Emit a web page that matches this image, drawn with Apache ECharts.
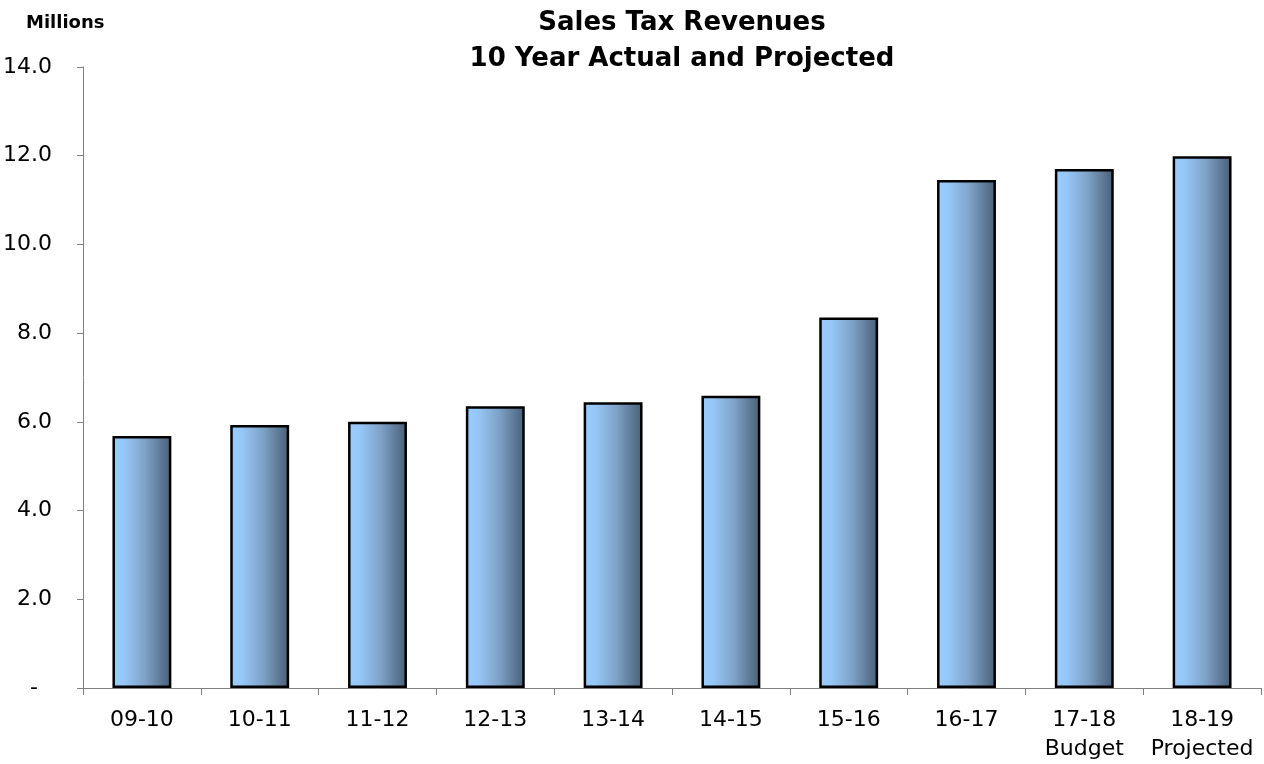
<!DOCTYPE html>
<html>
<head>
<meta charset="utf-8">
<script src="https://cdn.jsdelivr.net/npm/echarts@6/dist/echarts.min.js"></script>
<style>
  html, body { margin: 0; padding: 0; background: #ffffff; }
  #chart { width: 1264px; height: 764px; }
</style>
</head>
<body>
<div id="chart"></div>
<script>
// Fiscal years and sales tax revenue (millions)
const fiscalYears = ['09-10', '10-11', '11-12', '12-13', '13-14', '14-15', '15-16', '16-17', '17-18\nBudget', '18-19\nProjected'];
const revenues = [5.68, 5.93, 6.00, 6.35, 6.44, 6.59, 8.35, 11.45, 11.70, 11.99];

const yMin = 0;
const yMax = 14;
const yStep = 2;

const FONT = '"DejaVu Sans", Verdana, sans-serif';

const chart = echarts.init(document.getElementById('chart'), null, { renderer: 'canvas' });

chart.setOption({
  animation: false,
  backgroundColor: '#ffffff',
  title: [
    {
      text: 'Sales Tax Revenues\n10 Year Actual and Projected',
      left: 677,
      top: 0,
      textAlign: 'center',
      textStyle: { fontFamily: FONT, fontWeight: 'bold', fontSize: 26, lineHeight: 36, color: '#000' }
    },
    {
      text: 'Millions',
      left: 21,
      top: 9,
      textStyle: { fontFamily: FONT, fontWeight: 'bold', fontSize: 18, color: '#000' }
    }
  ],
  grid: { left: 83, right: 3, top: 67, bottom: 74, containLabel: false },
  xAxis: {
    type: 'category',
    data: fiscalYears,
    axisLine: { lineStyle: { color: '#808080', width: 1 } },
    axisTick: { show: true, length: 7, alignWithLabel: false, lineStyle: { color: '#808080' } },
    axisLabel: { fontFamily: FONT, fontSize: 22, color: '#000', margin: 18, lineHeight: 29, interval: 0 }
  },
  yAxis: {
    type: 'value',
    min: yMin,
    max: yMax,
    interval: yStep,
    splitLine: { show: false },
    axisLine: { show: true, lineStyle: { color: '#808080', width: 1 } },
    axisTick: { show: true, length: 6, lineStyle: { color: '#808080' } },
    axisLabel: {
      fontFamily: FONT, fontSize: 22, color: '#000', margin: 31,
      formatter: function (v) { return v === 0 ? '{dash|-}' : v.toFixed(1); },
      rich: { dash: { fontFamily: FONT, fontSize: 22, color: '#000', padding: [0, 14, 0, 0] } }
    }
  },
  series: [{
    type: 'bar',
    data: revenues,
    barWidth: '50%',
    itemStyle: {
      color: new echarts.graphic.LinearGradient(0, 0, 1, 0, [
        { offset: 0, color: '#99ccff' },
        { offset: 0.2, color: '#96c7f8' },
        { offset: 0.55, color: '#7fa3c8' },
        { offset: 1, color: '#485e77' }
      ]),
      borderColor: '#000000',
      borderWidth: 2.5
    }
  }]
});
</script>
</body>
</html>
